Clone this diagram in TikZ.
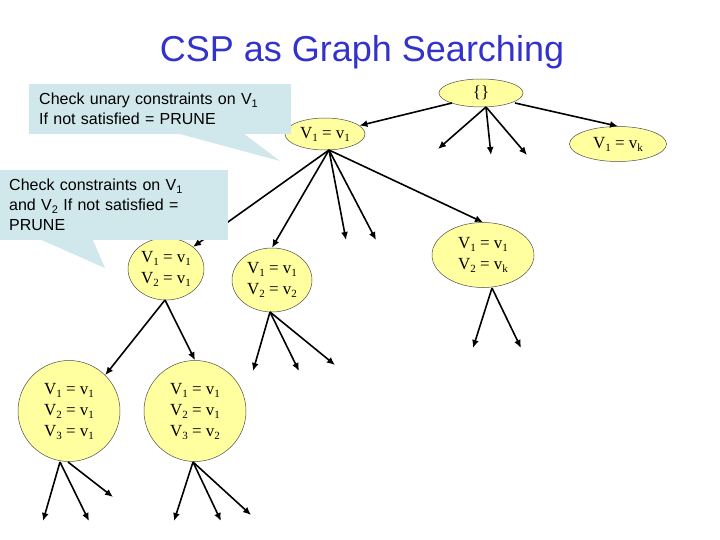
\documentclass[tikz,border=0pt]{standalone}
\usepackage{fontspec}
\setmainfont{Liberation Serif}
\newfontfamily\arial{Liberation Sans}
\usetikzlibrary{shapes.geometric,arrows.meta}
\newcommand\mysub[1]{\raisebox{-3pt}{\fontsize{11}{11}\selectfont #1}}
\definecolor{nodey}{RGB}{255,255,160}
\definecolor{callc}{RGB}{208,232,236}
\definecolor{titleb}{RGB}{51,51,204}
\tikzset{
  st/.style={draw=black!70,line width=0.5pt,fill=nodey,ellipse,inner sep=0pt,align=center,font=\fontsize{17}{21}\selectfont},
  ar/.style={line width=1.6pt,-{Latex[length=8pt,width=7pt]}},
  callout/.style={fill=callc,inner sep=0pt,align=left,anchor=north west,font=\arial\fontsize{16}{20}\selectfont},
}
\begin{document}
\begin{tikzpicture}[x=1pt,y=-1pt]
\useasboundingbox (0,0) rectangle (720,540);
\node[font=\arial\fontsize{36}{40}\selectfont,text=titleb] (title) at (362,52) {CSP as Graph Searching};
% nodes
\node[st,minimum width=84pt,minimum height=28pt] (root) at (481,93) {\{\}};
\node[st,minimum width=80pt,minimum height=32pt] (a1) at (325,134) {V\mysub{1} = v\mysub{1}};
\node[st,minimum width=97pt,minimum height=35pt] (ak) at (618,144) {V\mysub{1} = v\mysub{k}};
\node[st,minimum width=76pt,minimum height=62pt] (b1) at (166,269) {V\mysub{1} = v\mysub{1}\\V\mysub{2} = v\mysub{1}};
\node[st,minimum width=80pt,minimum height=64pt] (b2) at (272,280) {V\mysub{1} = v\mysub{1}\\V\mysub{2} = v\mysub{2}};
\node[st,minimum width=102pt,minimum height=65pt] (bk) at (483,255) {V\mysub{1} = v\mysub{1}\\V\mysub{2} = v\mysub{k}};
\node[st,minimum width=102pt,minimum height=101pt] (c1) at (69,411) {V\mysub{1} = v\mysub{1}\\V\mysub{2} = v\mysub{1}\\V\mysub{3} = v\mysub{1}};
\node[st,minimum width=102pt,minimum height=101pt] (c2) at (195,411) {V\mysub{1} = v\mysub{1}\\V\mysub{2} = v\mysub{1}\\V\mysub{3} = v\mysub{2}};
% free ends
\coordinate (rs) at (486,107);
\coordinate (r1) at (438,149); \coordinate (r2) at (491,155); \coordinate (r3) at (527,155);
\coordinate (as) at (329,150);
\coordinate (a2) at (346,240); \coordinate (a3) at (376,240);
\coordinate (bks) at (492,288);
\coordinate (bk1) at (473,348); \coordinate (bk2) at (521,348);
\coordinate (b2s) at (270,312);
\coordinate (b21) at (253,371); \coordinate (b22) at (299,371); \coordinate (b23) at (335,365);
\coordinate (c1s) at (60,462); \coordinate (c1t) at (68,462);
\coordinate (c11) at (43,521); \coordinate (c12) at (89,521); \coordinate (c13) at (113,497);
\coordinate (c2s) at (193,462);
\coordinate (c21) at (174,521); \coordinate (c22) at (221,521); \coordinate (c23) at (251,515);
\coordinate (b1s) at (165,300);
% edges
\draw[ar] (452,103) -- (a1);
\draw[ar] (515,103) -- (ak.north);
\draw[ar] (rs) -- (r1); \draw[ar] (rs) -- (r2); \draw[ar] (rs) -- (r3);
\draw[ar] (as) -- (b1.north east);
\draw[ar] (as) -- (b2.north);
\draw[ar] (as) -- (a2); \draw[ar] (as) -- (a3);
\draw[ar] (as) -- (bk.north);
\draw[ar] (bks) -- (bk1); \draw[ar] (bks) -- (bk2);
\draw[ar] (b2s) -- (b21); \draw[ar] (b2s) -- (b22); \draw[ar] (b2s) -- (b23);
\draw[ar] (b1s) -- (c1.north east);
\draw[ar] (b1s) -- (c2.north);
\draw[ar] (c1s) -- (c11); \draw[ar] (c1s) -- (c12); \draw[ar] (c1t) -- (c13);
\draw[ar] (c2s) -- (c21); \draw[ar] (c2s) -- (c22); \draw[ar] (c2s) -- (c23);
% callouts
\node[callout,minimum width=262pt,minimum height=50pt,text width=254pt] (k1) at (29,84) {\hspace{6pt}\raisebox{0pt}{Check unary constraints on V\mysub{1}}\\\hspace{6pt}If not satisfied = PRUNE};
\coordinate (k1t) at (280,161);
\fill[callc] (176,133) -- (k1t) -- (243,133) -- cycle;
\node[callout,minimum width=228pt,minimum height=70pt,text width=222pt] (k2) at (0,170) {\hspace{6pt}Check constraints on V\mysub{1}\\\hspace{6pt}and V\mysub{2} If not satisfied =\\\hspace{6pt}PRUNE};
\coordinate (k2t) at (105,268);
\fill[callc] (37,238) -- (k2t) -- (92,238) -- cycle;
\end{tikzpicture}
\end{document}
